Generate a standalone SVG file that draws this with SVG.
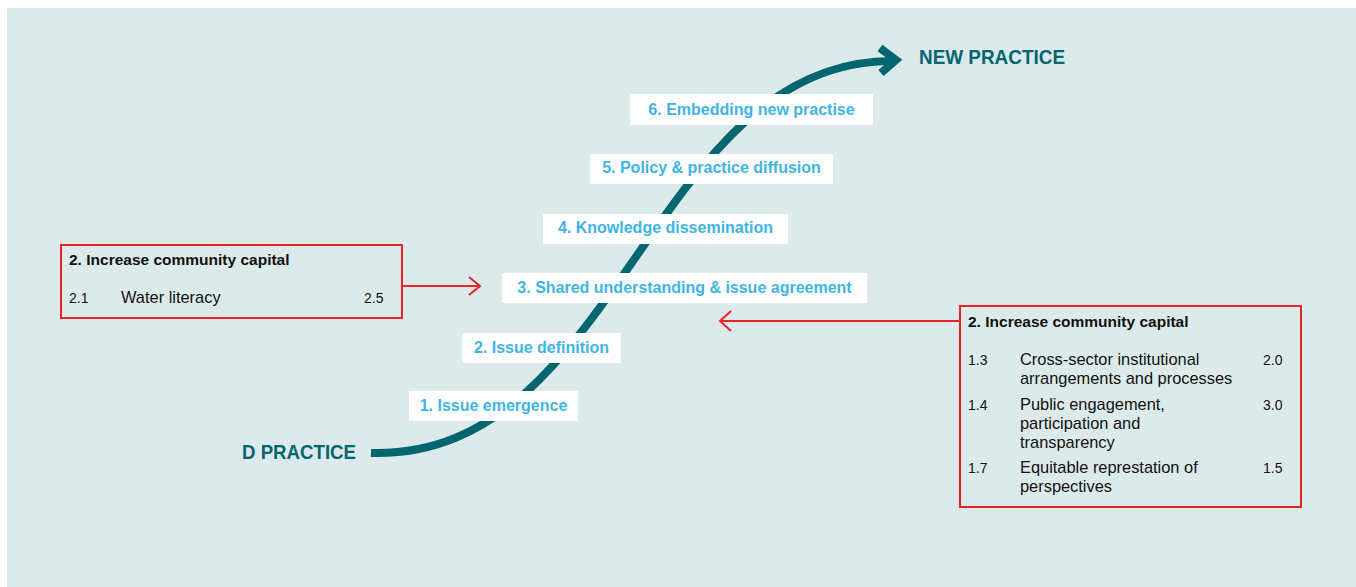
<svg xmlns="http://www.w3.org/2000/svg" width="1356" height="587" viewBox="0 0 1356 587">
<style>
.bg{fill:#ddeaeb}
.lbl{fill:#fff}
.lt{font-family:"Liberation Sans",Arial,sans-serif;font-weight:bold;font-size:16px;fill:#3fb4e5;text-anchor:middle}
.big{font-family:"Liberation Sans",Arial,sans-serif;font-weight:bold;font-size:20px;fill:#01666f}
.rbox{fill:none;stroke:#e8232b;stroke-width:2}
.ttl{font-family:"Liberation Sans",Arial,sans-serif;font-weight:bold;font-size:15.5px;fill:#111}
.num{font-family:"Liberation Sans",Arial,sans-serif;font-size:14px;fill:#111}
.txt{font-family:"Liberation Sans",Arial,sans-serif;font-size:16.4px;fill:#111}
.red{fill:none;stroke:#e8232b;stroke-width:2}
.teal{fill:none;stroke:#01666f;stroke-width:8}
</style>
<rect class="bg" x="7" y="8" width="1349" height="579"/>
<g id="connectors">
<path class="teal" d="M371,453 C620,460 650,60 893,61"/>
<polyline class="teal" points="880,48 896,60 881,73" stroke-linejoin="miter" stroke-miterlimit="10"/>
<line class="red" x1="402" y1="286" x2="479" y2="286"/>
<polyline class="red" points="469,277 480,286 469,295"/>
<line class="red" x1="959" y1="321" x2="721" y2="321"/>
<polyline class="red" points="731,311 720,321 731,331"/>
</g>
<g id="old-practice"><text class="big" x="242" y="459" textLength="114" lengthAdjust="spacingAndGlyphs">D PRACTICE</text></g>
<g id="new-practice"><text class="big" x="919" y="64" textLength="146" lengthAdjust="spacingAndGlyphs">NEW PRACTICE</text></g>
<g id="step1"><rect class="lbl" x="409" y="391" width="169" height="30"/><text class="lt" x="493.5" y="411">1. Issue emergence</text></g>
<g id="step2"><rect class="lbl" x="462" y="333" width="159" height="30"/><text class="lt" x="541.5" y="353">2. Issue definition</text></g>
<g id="step3"><rect class="lbl" x="502" y="273" width="365" height="30"/><text class="lt" x="684.5" y="293">3. Shared understanding &amp; issue agreement</text></g>
<g id="step4"><rect class="lbl" x="543" y="214" width="245" height="30"/><text class="lt" x="665.5" y="233">4. Knowledge dissemination</text></g>
<g id="step5"><rect class="lbl" x="590" y="154" width="243" height="30"/><text class="lt" x="711.5" y="173">5. Policy &amp; practice diffusion</text></g>
<g id="step6"><rect class="lbl" x="630" y="94" width="243" height="31"/><text class="lt" x="751.5" y="115">6. Embedding new practise</text></g>
<g id="left-box">
<rect class="rbox" x="61" y="245" width="341" height="73"/>
<text class="ttl" x="69" y="265">2. Increase community capital</text>
<text class="num" x="69" y="303">2.1</text>
<text class="txt" x="121" y="303">Water literacy</text>
<text class="num" x="364" y="303">2.5</text>
</g>
<g id="right-box">
<rect class="rbox" x="960" y="306" width="341" height="201"/>
<text class="ttl" x="968" y="327">2. Increase community capital</text>
<text class="num" x="968" y="365">1.3</text>
<text class="txt" x="1020" y="365">Cross-sector institutional</text>
<text class="txt" x="1020" y="384">arrangements and processes</text>
<text class="num" x="1263" y="365">2.0</text>
<text class="num" x="968" y="410">1.4</text>
<text class="txt" x="1020" y="410">Public engagement,</text>
<text class="txt" x="1020" y="429">participation and</text>
<text class="txt" x="1020" y="448">transparency</text>
<text class="num" x="1263" y="410">3.0</text>
<text class="num" x="968" y="473">1.7</text>
<text class="txt" x="1020" y="473">Equitable represtation of</text>
<text class="txt" x="1020" y="492">perspectives</text>
<text class="num" x="1263" y="473">1.5</text>
</g>
</svg>
